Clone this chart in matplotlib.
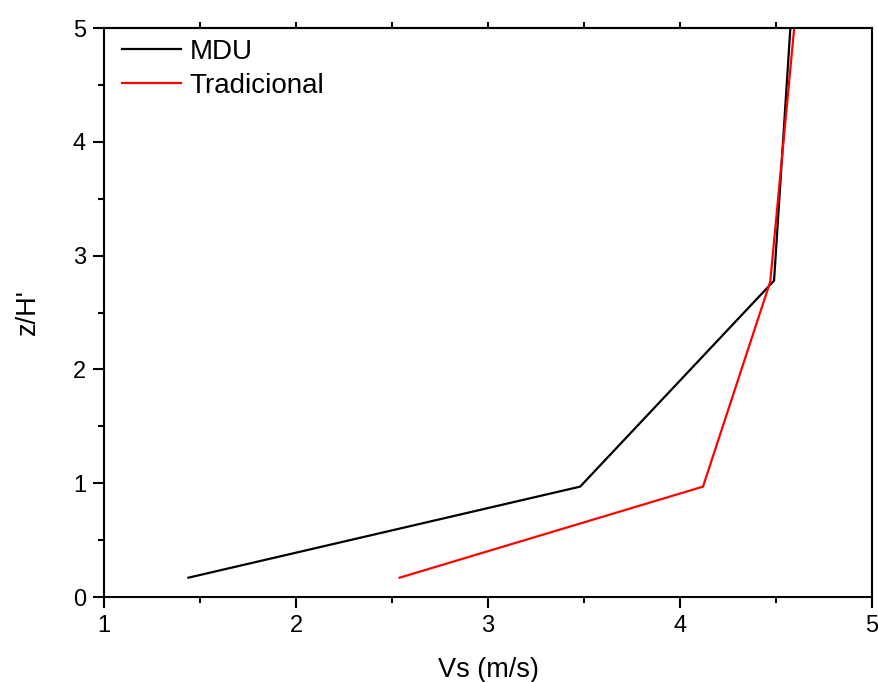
import numpy as np
from matplotlib import pyplot as plt

# profile values
vs_mdu = [1.44, 3.48, 4.49, 4.575]
z_mdu = [0.17, 0.97, 2.78, 5.0]

vs_trad = [2.54, 4.12, 4.47, 4.595]
z_trad = [0.17, 0.97, 2.77, 5.0]

plt.rcParams['font.family'] = ['Liberation Sans', 'DejaVu Sans']

fig = plt.figure(figsize=(8.79, 6.82), dpi=100)
ax = fig.add_axes([0.1183, 0.1246, 0.8737, 0.8343])

ax.plot(vs_mdu, z_mdu, color='black', lw=1.6, label='MDU')
ax.plot(vs_trad, z_trad, color='red', lw=1.6, label='Tradicional')

ax.set_xlim(1, 5)
ax.set_ylim(0, 5)
ax.set_xticks([1, 2, 3, 4, 5])
ax.set_yticks([0, 1, 2, 3, 4, 5])
ax.set_xticks(np.arange(1.5, 5, 1), minor=True)
ax.set_yticks(np.arange(0.5, 5, 1), minor=True)

for s in ax.spines.values():
    s.set_linewidth(1.5)

ax.tick_params(which='major', direction='out', length=8, width=1.5, labelsize=17, pad=5)
ax.tick_params(which='minor', direction='out', length=4.5, width=1.5)

# top axis gets short ticks every 0.5, no labels
top = ax.secondary_xaxis('top')
top.set_xticks(np.arange(1.5, 5, 0.5))
top.tick_params(direction='out', length=4.5, width=1.5, labeltop=False)
top.spines['top'].set_linewidth(1.5)

ax.set_xlabel('Vs (m/s)', fontsize=19.5, labelpad=14)
ax.set_ylabel("z/H'", fontsize=19.5, labelpad=23)

ax.legend(loc='upper left', frameon=False, fontsize=20, handlelength=2.15,
          handletextpad=0.3, labelspacing=0.28, borderpad=0.3, borderaxespad=0.0,
          bbox_to_anchor=(0.012, 0.995))

plt.savefig('out.png', dpi=100)
